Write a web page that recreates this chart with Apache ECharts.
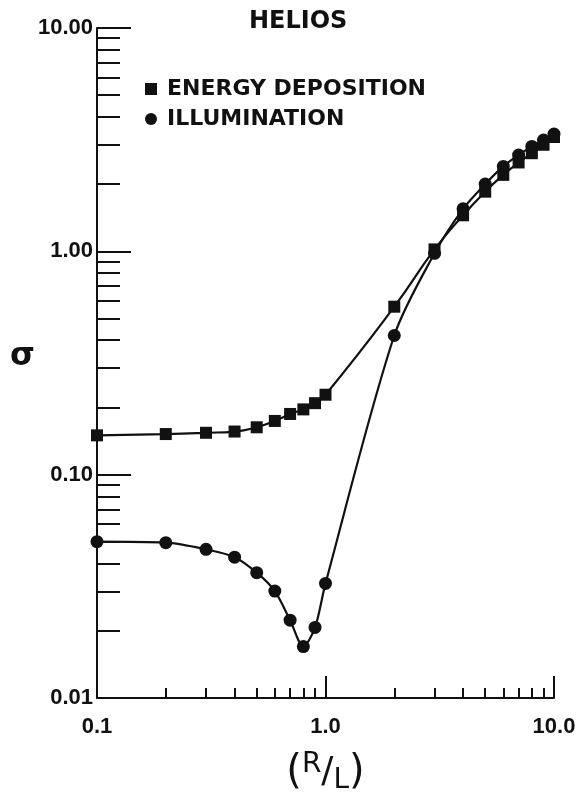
<!DOCTYPE html>
<html>
<head>
<meta charset="utf-8">
<script src="https://cdn.jsdelivr.net/npm/echarts@6/dist/echarts.min.js"></script>
<style>
  html, body { margin: 0; padding: 0; background: #fff; }
  #chart { width: 585px; height: 793px; }
</style>
</head>
<body>
<div id="chart"></div>
<script>
// R/L sample positions
const rOverL = [0.1, 0.2, 0.3, 0.4, 0.5, 0.6, 0.7, 0.8, 0.9, 1.0, 2, 3, 4, 5, 6, 7, 8, 9, 10];
// sigma, energy deposition
const energyDeposition = [0.150, 0.152, 0.154, 0.156, 0.163, 0.174, 0.187, 0.196, 0.209, 0.228,
                          0.565, 1.02, 1.45, 1.85, 2.2, 2.5, 2.75, 3.0, 3.25];
// sigma, illumination
const illumination = [0.0501, 0.0496, 0.0463, 0.0427, 0.0364, 0.0301, 0.0223, 0.0170, 0.0207, 0.0326,
                      0.42, 0.98, 1.55, 2.0, 2.4, 2.7, 2.95, 3.15, 3.35];

// decade tick labels
const xTickValues = [0.1, 1, 10];
const yTickValues = [0.01, 0.1, 1, 10];
// minor (2..9) ticks per decade
const xMinorTicks = [0.2, 0.3, 0.4, 0.5, 0.6, 0.7, 0.8, 0.9, 2, 3, 4, 5, 6, 7, 8, 9];
const yMinorTicks = [0.02, 0.03, 0.04, 0.05, 0.06, 0.07, 0.08, 0.09,
                     0.2, 0.3, 0.4, 0.5, 0.6, 0.7, 0.8, 0.9,
                     2, 3, 4, 5, 6, 7, 8, 9];

const INK = '#111';
const labelFont = { color: INK, fontFamily: 'Liberation Sans', fontWeight: 'bold', fontSize: 22 };

const pairs = (ys) => rOverL.map((x, i) => [x, ys[i]]);

const chart = echarts.init(document.getElementById('chart'), null, { renderer: 'canvas' });

chart.setOption({
  backgroundColor: '#fff',
  animation: false,
  title: {
    text: 'HELIOS',
    left: 249,
    top: 10,
    padding: 0,
    textStyle: { color: INK, fontFamily: 'DejaVu Sans', fontWeight: 'bold', fontSize: 24 }
  },
  legend: {
    orient: 'vertical',
    left: 145,
    top: 78,
    padding: 0,
    itemWidth: 12,
    itemHeight: 12,
    itemGap: 8,
    textStyle: { color: INK, fontFamily: 'DejaVu Sans', fontWeight: 'bold', fontSize: 22, padding: [0, 0, 0, 5] },
    data: [
      { name: 'ENERGY DEPOSITION', icon: 'rect' },
      { name: 'ILLUMINATION', icon: 'circle' }
    ]
  },
  grid: { left: 97, right: 31, top: 28, bottom: 95, containLabel: false, outerBoundsMode: 'none' },
  xAxis: [
    {
      type: 'log',
      logBase: 10,
      min: 0.1,
      max: 10,
      name: '{p|(}{r|R}{s|/}{l|L}{p|)}',
      nameLocation: 'middle',
      nameGap: 53,
      nameMoveOverlap: false,
      nameTextStyle: {
        rich: {
          p: { fontFamily: 'DejaVu Sans', fontSize: 40, lineHeight: 44, color: INK, verticalAlign: 'middle' },
          r: { fontFamily: 'DejaVu Sans', fontSize: 28, lineHeight: 30, color: INK, verticalAlign: 'top' },
          s: { fontFamily: 'DejaVu Sans', fontSize: 36, lineHeight: 42, color: INK, verticalAlign: 'middle' },
          l: { fontFamily: 'DejaVu Sans', fontSize: 28, lineHeight: 30, color: INK, verticalAlign: 'bottom' }
        }
      },
      axisLine: { show: true, lineStyle: { color: INK, width: 2 } },
      axisTick: { show: true, inside: true, length: 22, lineStyle: { color: INK, width: 2 }, customValues: xTickValues },
      axisLabel: Object.assign({ margin: 18, customValues: xTickValues, formatter: v => Number(v).toFixed(1) }, labelFont),
      splitLine: { show: false }
    },
    {
      type: 'log',
      logBase: 10,
      min: 0.1,
      max: 10,
      position: 'bottom',
      axisLine: { show: false },
      axisTick: { show: true, inside: true, length: 10, lineStyle: { color: INK, width: 2 }, customValues: xMinorTicks },
      axisLabel: { show: false },
      splitLine: { show: false }
    }
  ],
  yAxis: [
    {
      type: 'log',
      logBase: 10,
      min: 0.01,
      max: 10,
      name: 'σ',
      nameLocation: 'middle',
      nameRotate: 0,
      nameGap: 62,
      nameMoveOverlap: false,
      nameTextStyle: { color: INK, fontFamily: 'DejaVu Sans', fontWeight: 'bold', fontSize: 32, lineHeight: 12, verticalAlign: 'bottom' },
      axisLine: { show: true, lineStyle: { color: INK, width: 2 } },
      axisTick: { show: true, inside: true, length: 34, lineStyle: { color: INK, width: 2 }, customValues: yTickValues },
      axisLabel: Object.assign({ margin: 4, customValues: yTickValues, formatter: v => Number(v).toFixed(2) }, labelFont),
      splitLine: { show: false }
    },
    {
      type: 'log',
      logBase: 10,
      min: 0.01,
      max: 10,
      position: 'left',
      axisLine: { show: false },
      axisTick: { show: true, inside: true, length: 23, lineStyle: { color: INK, width: 2 }, customValues: yMinorTicks },
      axisLabel: { show: false },
      splitLine: { show: false }
    }
  ],
  series: [
    {
      name: 'ENERGY DEPOSITION',
      type: 'line',
      xAxisIndex: 0,
      yAxisIndex: 0,
      data: pairs(energyDeposition),
      smooth: 0.5,
      symbol: 'rect',
      symbolSize: 12,
      showAllSymbol: true,
      lineStyle: { color: INK, width: 2.2 },
      itemStyle: { color: INK },
      clip: false
    },
    {
      name: 'ILLUMINATION',
      type: 'line',
      xAxisIndex: 0,
      yAxisIndex: 0,
      data: pairs(illumination),
      smooth: 0.3,
      symbol: 'circle',
      symbolSize: 13,
      showAllSymbol: true,
      lineStyle: { color: INK, width: 2.2 },
      itemStyle: { color: INK },
      clip: false
    }
  ]
});
</script>
</body>
</html>
